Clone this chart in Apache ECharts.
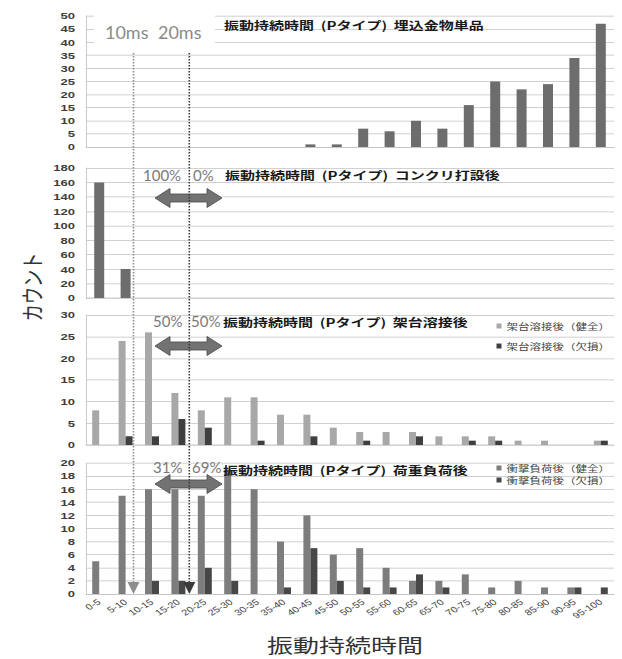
<!DOCTYPE html>
<html>
<head>
<meta charset="utf-8">
<script src="https://cdn.jsdelivr.net/npm/echarts/dist/echarts.min.js"></script>
<style>
  html, body { margin: 0; padding: 0; background: #fff; width: 622px; height: 659px; overflow: hidden; }
  /* the figure is laid out tall and then compressed vertically */
  #chart { width: 622px; height: 879px; transform: scaleY(0.75); transform-origin: 0 0; }
</style>
</head>
<body>
<div id="chart"></div>
<script>
// duration bins (ms)
const categories = ['0-5','5-10','10-15','15-20','20-25','25-30','30-35','35-40','40-45','45-50',
                    '50-55','55-60','60-65','65-70','70-75','75-80','80-85','85-90','90-95','95-100'];

// counts per bin
const embedOnly     = [0,0,0,0,0,0,0,0,1,1,7,6,10,7,16,25,22,24,34,47];
const afterConcrete = [160,40,0,0,0,0,0,0,0,0,0,0,0,0,0,0,0,0,0,0];
const weldSound     = [8,24,26,12,8,11,11,7,7,4,3,3,3,2,2,2,1,1,0,1];
const weldDefect    = [0,2,2,6,4,0,1,0,2,0,1,0,2,0,1,1,0,0,0,1];
const loadSound     = [5,15,16,16,15,19,16,8,12,6,7,4,2,2,3,1,2,1,1,0];
const loadDefect    = [0,0,2,2,4,2,0,1,7,2,1,1,3,1,0,0,0,0,1,1];

// value-axis ranges per panel
const panelMax  = [50, 180, 30, 20];
const panelStep = [5, 20, 5, 2];

const panelTitles = [
  '振動持続時間  (Pタイプ)  埋込金物単品',
  '振動持続時間  (Pタイプ)  コンクリ打設後',
  '振動持続時間  (Pタイプ)  架台溶接後',
  '振動持続時間  (Pタイプ)  荷重負荷後'
];
const shareBelow = ['100%', '50%', '31%'];
const shareAbove = ['0%', '50%', '69%'];
const marks = ['10ms', '20ms'];

const weldNames = ['架台溶接後（健全）', '架台溶接後（欠損）'];
const loadNames = ['衝撃負荷後（健全）', '衝撃負荷後（欠損）'];

// ---- layout (screen px; vertical values are divided by the compression factor) ----
const S = 0.75;
const Y = v => v / S;
const PLOT_LEFT = 86, PLOT_WIDTH = 528;
const panels = [ {top: 16, h: 131}, {top: 168, h: 130}, {top: 315, h: 130}, {top: 463, h: 131} ];
const titleCenter = [25, 175, 322, 470];
const titleLeft = [224, 225, 223, 223];

const GRID_COLOR = '#c2c2c2';
const CJK = "'Noto Sans CJK JP', sans-serif";

const chart = echarts.init(document.getElementById('chart'), null, { renderer: 'svg' });

const grid = panels.map(p => ({ left: PLOT_LEFT, width: PLOT_WIDTH, top: Y(p.top), height: Y(p.h) }));

const xAxis = panels.map((p, i) => {
  const ax = {
    type: 'category', gridIndex: i, data: categories, boundaryGap: true,
    axisTick: { show: false },
    axisLine: { show: true, lineStyle: { color: GRID_COLOR, width: 1.33 } },
    axisLabel: { show: false }
  };
  if (i === 3) {
    ax.axisLabel = { show: true, interval: 0, rotate: 38, margin: 9, fontSize: 11,
                     color: '#444', fontFamily: 'Liberation Sans' };
    ax.name = '振動持続時間';
    ax.nameLocation = 'middle';
    ax.nameGap = 55;
    ax.nameTextStyle = { fontSize: 26, color: '#333', fontFamily: CJK, padding: [0, 10, 0, 0] };
  }
  return ax;
});

const yAxis = panels.map((p, i) => ({
  type: 'value', gridIndex: i, min: 0, max: panelMax[i], interval: panelStep[i],
  axisLine: { show: true, lineStyle: { color: GRID_COLOR } },
  axisTick: { show: false },
  splitLine: { lineStyle: { color: GRID_COLOR, width: 1.33 } },
  axisLabel: { margin: 11, fontSize: 13, fontWeight: 'bold', color: '#3d3d3d', fontFamily: 'Liberation Sans' }
}));

const series = [
  { type: 'bar', name: '埋込金物単品', xAxisIndex: 0, yAxisIndex: 0, data: embedOnly,
    barWidth: 10, itemStyle: { color: '#6d6d6d' } },
  { type: 'bar', name: 'コンクリ打設後', xAxisIndex: 1, yAxisIndex: 1, data: afterConcrete,
    barWidth: 10, itemStyle: { color: '#6d6d6d' } },
  { type: 'bar', name: weldNames[0], xAxisIndex: 2, yAxisIndex: 2, data: weldSound,
    barWidth: 7, barGap: '0%', itemStyle: { color: '#a8a8a8' } },
  { type: 'bar', name: weldNames[1], xAxisIndex: 2, yAxisIndex: 2, data: weldDefect,
    barWidth: 7, barGap: '0%', itemStyle: { color: '#3f3f3f' } },
  { type: 'bar', name: loadNames[0], xAxisIndex: 3, yAxisIndex: 3, data: loadSound,
    barWidth: 7, barGap: '0%', itemStyle: { color: '#7d7d7d' } },
  { type: 'bar', name: loadNames[1], xAxisIndex: 3, yAxisIndex: 3, data: loadDefect,
    barWidth: 7, barGap: '0%', itemStyle: { color: '#474747' } }
];

const legendBase = {
  orient: 'vertical', right: 12, align: 'left', padding: 0, icon: 'rect',
  itemWidth: 5, itemHeight: Y(5), selectedMode: false,
  textStyle: { fontSize: 11.5, lineHeight: 14, color: '#444', fontFamily: CJK }
};
const legend = [
  Object.assign({}, legendBase, { data: weldNames, top: Y(326) - 7, itemGap: 12.7 }),
  Object.assign({}, legendBase, { data: loadNames, top: Y(468) - 7, itemGap: 2 })
];

const title = panelTitles.map((t, i) => ({
  text: t, left: titleLeft[i], top: Y(titleCenter[i]) - 7.5, padding: 0,
  textStyle: { fontSize: 15, lineHeight: 15, fontWeight: 'bold', color: '#1a1a1a', fontFamily: CJK }
}));

// ---- annotations ----
const graphic = [];

// boxed labels of the two reference durations
graphic.push({ type: 'rect', z: 5, shape: { x: 94, y: Y(12), width: 121, height: Y(38) },
               style: { fill: '#fff' } });
[105, 158].forEach((x, k) => graphic.push({
  type: 'text', z: 10, x: x, y: Y(32), scaleY: 1 / S,
  style: { text: marks[k], fontSize: 18, fontFamily: 'Lato', fill: '#8a8a8a',
           align: 'left', verticalAlign: 'middle' }
}));

// dotted guides at the two durations, ending in arrowheads
const guides = [ { x: 133.5, color: '#8e8e8e' }, { x: 189.3, color: '#3a3a3a' } ];
guides.forEach(g => {
  graphic.push({ type: 'line', z: 9, shape: { x1: g.x, y1: Y(53), x2: g.x, y2: Y(583) },
                 style: { stroke: g.color, lineWidth: 1.6, lineDash: [2, 2] } });
  graphic.push({ type: 'polygon', z: 9,
                 shape: { points: [[g.x - 6, Y(582)], [g.x + 6, Y(582)], [g.x, Y(594)]] },
                 style: { fill: g.color } });
});

// share labels and double arrows for panels 2-4
const shareCenter = [175, 321, 467];
const shareLeft = [[143, 193], [153, 191], [153, 192]];
const arrowCenter = [198, 346, 484];
shareCenter.forEach((cy, k) => {
  [shareBelow[k], shareAbove[k]].forEach((txt, j) => graphic.push({
    type: 'text', z: 10, x: shareLeft[k][j], y: Y(cy), scaleY: 1 / S,
    style: { text: txt, fontSize: 15, fontFamily: 'Lato', fill: '#7a7a7a',
             align: 'left', verticalAlign: 'middle' }
  }));
  const x1 = 155, x2 = 222, hl = 15, hh = 9.5, sh = 4, c = arrowCenter[k];
  const pts = [[x1, c], [x1 + hl, c - hh], [x1 + hl, c - sh], [x2 - hl, c - sh], [x2 - hl, c - hh],
               [x2, c], [x2 - hl, c + hh], [x2 - hl, c + sh], [x1 + hl, c + sh], [x1 + hl, c + hh]]
              .map(p => [p[0], Y(p[1])]);
  graphic.push({ type: 'polygon', z: 8, shape: { points: pts },
                 style: { fill: '#727272', stroke: '#505050', lineWidth: 1 } });
});

// shared value-axis title
graphic.push({
  type: 'text', z: 10, x: 31, y: Y(287), rotation: Math.PI / 2,
  style: { text: 'カウント', fontSize: 23, fontFamily: CJK, fill: '#333',
           align: 'center', verticalAlign: 'middle' }
});

chart.setOption({
  animation: false,
  backgroundColor: '#fff',
  title, legend, grid, xAxis, yAxis, series, graphic
});
</script>
</body>
</html>
